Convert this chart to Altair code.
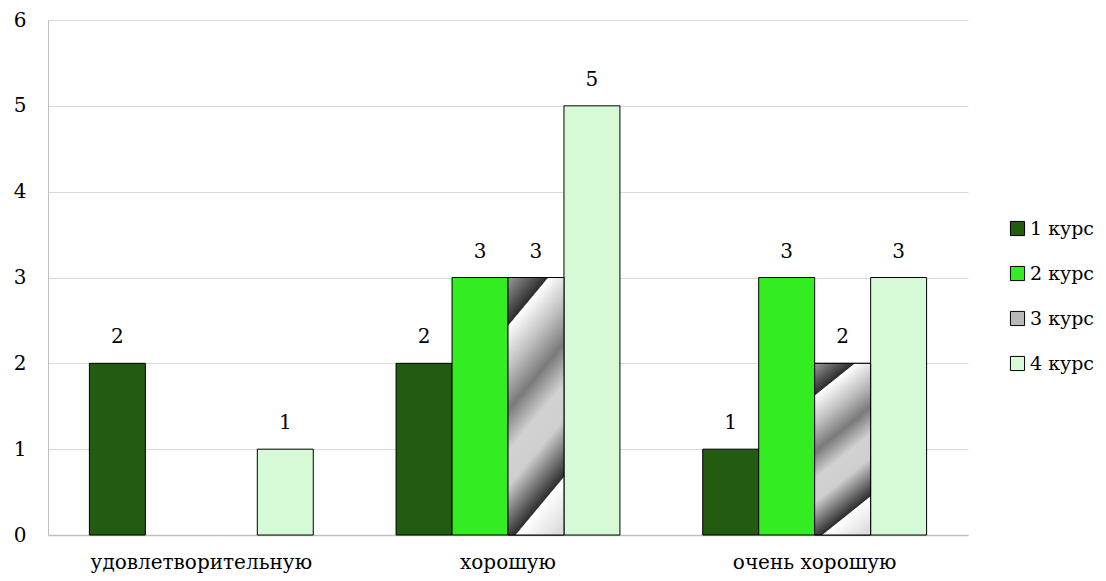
import altair as alt
import pandas as pd

categories = ["удовлетворительную", "хорошую", "очень хорошую"]
series = ["1 курс", "2 курс", "3 курс", "4 курс"]
values_1 = [2, 2, 1]
values_2 = [None, 3, 3]
values_3 = [None, 3, 2]
values_4 = [1, 5, 3]
colors = ["#215c11", "#33ec22", "#b8b8b8", "#d6f9d6"]

rows = []
for s, vals in zip(series, [values_1, values_2, values_3, values_4]):
    for c, v in zip(categories, vals):
        if v is not None:
            rows.append({"category": c, "series": s, "value": v})
df = pd.DataFrame(rows)

FONT = "DejaVu Serif"

x_enc = alt.X("category:N", sort=categories, title=None,
              scale=alt.Scale(paddingInner=0.27, paddingOuter=0.135),
              axis=alt.Axis(labelAngle=0, labelFontSize=20, labelFont=FONT, labelColor="#000000",
                            labelLimit=400, ticks=False, domainColor="#bfbfbf", domainWidth=1.5,
                            labelPadding=17))
xoff = alt.XOffset("series:N", sort=series, scale=alt.Scale(domain=series, paddingInner=0, paddingOuter=0))
y_enc = alt.Y("value:Q", title=None,
              scale=alt.Scale(domain=[0, 6], nice=False),
              axis=alt.Axis(values=[0, 1, 2, 3, 4, 5, 6], labelFontSize=20, labelFont=FONT,
                            labelColor="#000000", ticks=False, domainColor="#bfbfbf", domainWidth=1,
                            gridColor="#d9d9d9", labelPadding=22, labelFlush=False))

bars = alt.Chart(df).mark_bar(stroke="#000000", strokeWidth=1).encode(
    x=x_enc, xOffset=xoff, y=y_enc,
    color=alt.Color("series:N", sort=series, title=None,
                    scale=alt.Scale(domain=series, range=colors),
                    legend=alt.Legend(orient="none", legendX=960, legendY=199,
                                      labelFontSize=19, labelFont=FONT, labelColor="#000000",
                                      labelLimit=200,
                                      symbolType="square", symbolSize=200, symbolStrokeColor="#000000",
                                      symbolStrokeWidth=1, rowPadding=25, labelOffset=3))
)

grad = alt.Gradient(
    gradient="linear", x1=0, y1=0, x2=0.3, y2=1.15,
    stops=[
        alt.GradientStop(offset=0.0, color="#9a9a9a"),
        alt.GradientStop(offset=0.15, color="#2e2e2e"),
        alt.GradientStop(offset=0.155, color="#ffffff"),
        alt.GradientStop(offset=0.3, color="#bcbcbc"),
        alt.GradientStop(offset=0.42, color="#7a7a7a"),
        alt.GradientStop(offset=0.55, color="#d2d2d2"),
        alt.GradientStop(offset=0.66, color="#cfcfcf"),
        alt.GradientStop(offset=0.84, color="#2e2e2e"),
        alt.GradientStop(offset=0.845, color="#ffffff"),
        alt.GradientStop(offset=1.0, color="#dcdcdc"),
    ])

striped = alt.Chart(df).transform_filter(alt.datum.series == "3 курс").mark_bar(
    color=grad, stroke="#000000", strokeWidth=1).encode(x=x_enc, xOffset=xoff, y=y_enc)

labels = alt.Chart(df).mark_text(fontSize=20, font=FONT, color="#000000", dy=-20,
                                 baseline="alphabetic").encode(
    x=x_enc, xOffset=xoff, y=y_enc, text=alt.Text("value:Q"))

chart = alt.layer(bars, striped, labels).properties(
    width=920, height=515,
    background="#ffffff",
    autosize=alt.AutoSizeParams(type="none"),
    padding={"left": 40, "top": 12, "right": 130, "bottom": 46},
).configure_view(strokeWidth=0)

chart.save("out.html", embed_options={"renderer": "svg", "actions": False})
